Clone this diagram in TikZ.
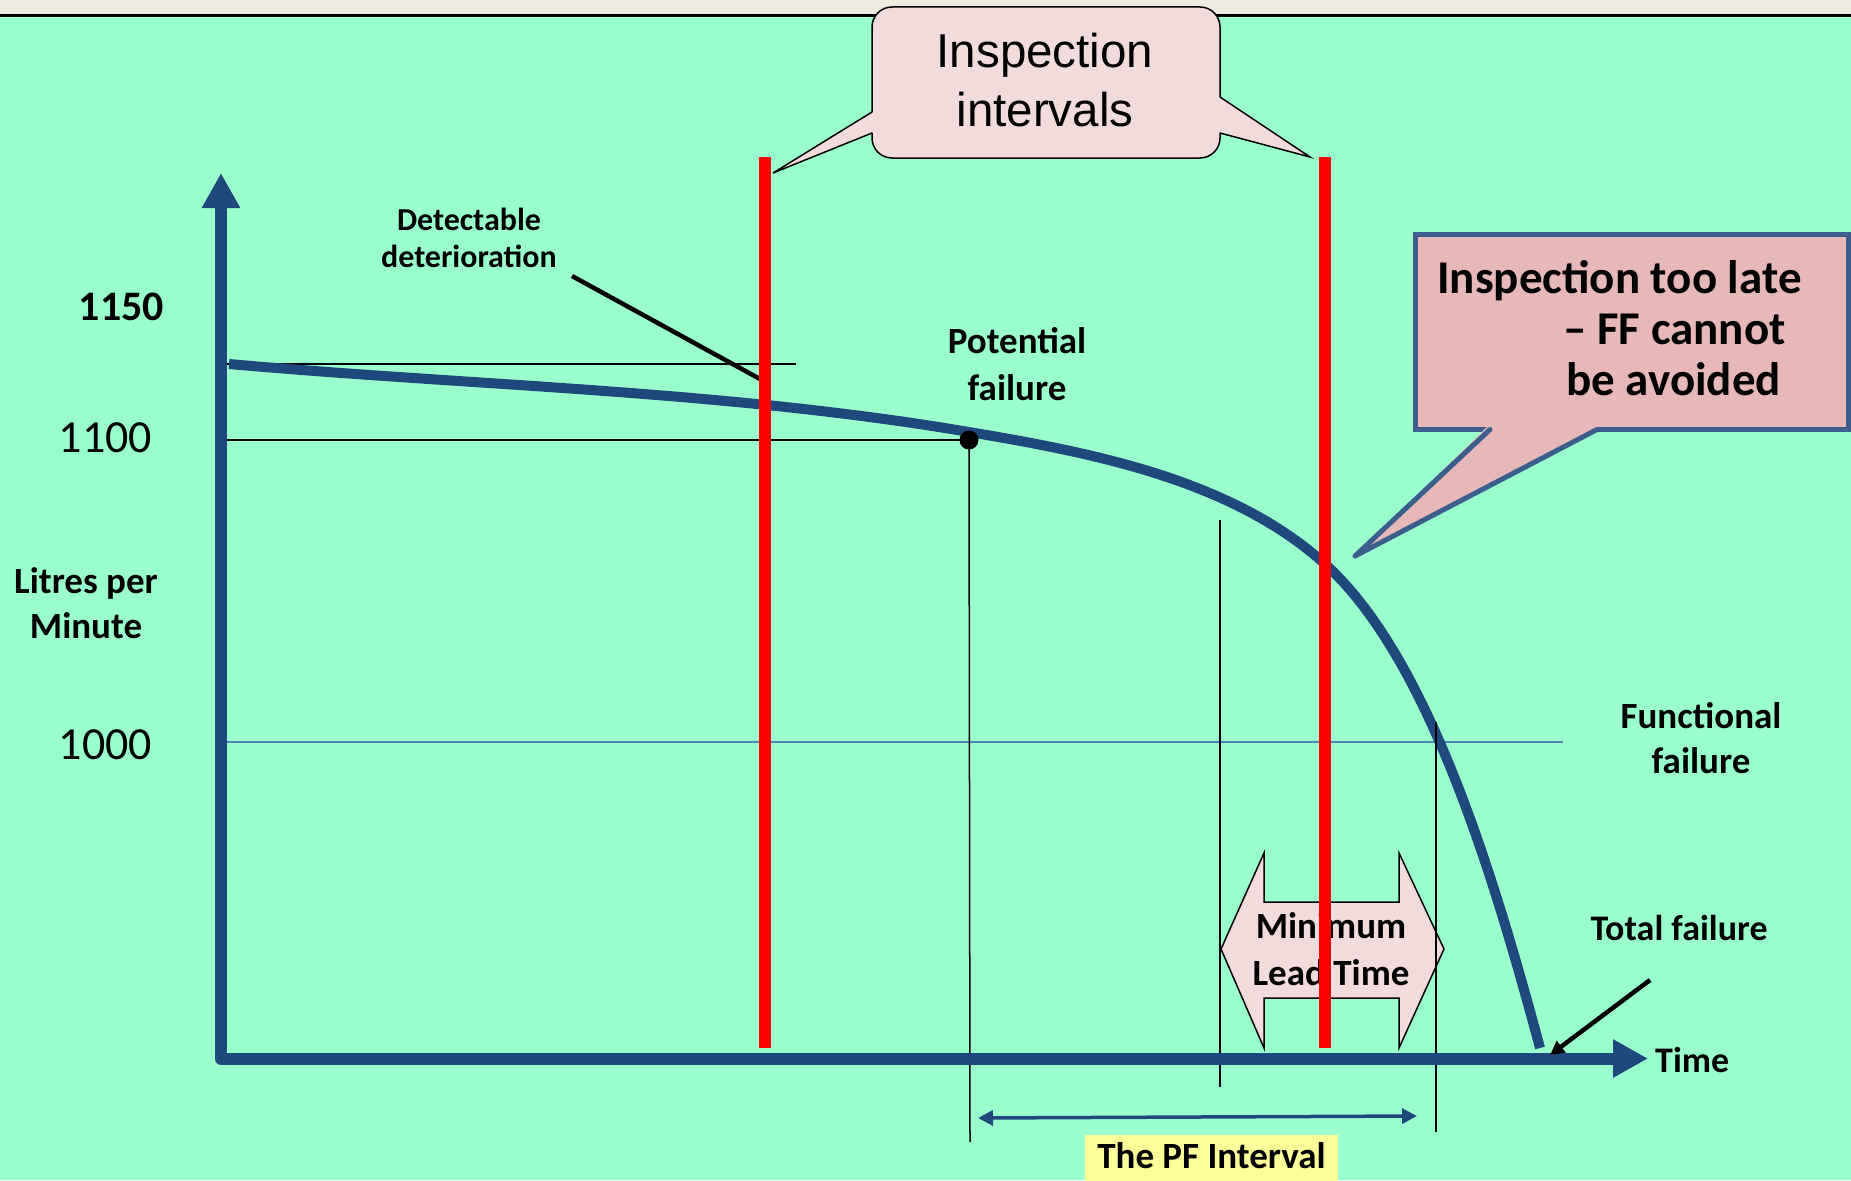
\documentclass[tikz,border=0pt]{standalone}
\usepackage{fontspec}
\setmainfont{Carlito}
\newfontfamily\arialfont{Liberation Sans}
\usetikzlibrary{arrows.meta}

\definecolor{mint}{HTML}{99FFCC}
\definecolor{bandgrey}{HTML}{EEECE1}
\definecolor{navy}{HTML}{1F497D}
\definecolor{steel}{HTML}{3B5E8C}
\definecolor{lineblue}{HTML}{4F81BD}
\definecolor{palepink}{HTML}{F2DCDB}
\definecolor{rosepink}{HTML}{E6B9B8}
\definecolor{labelyellow}{HTML}{FFFF99}

\tikzset{
  bigtip/.tip={Triangle[length=35pt, width=36pt]},
  pftip/.tip={Triangle[length=15pt, width=15pt]},
  smalltip/.tip={Triangle[length=14pt, width=14pt]}
}

\begin{document}
\begin{tikzpicture}[x=1pt, y=-1pt,
  lbl/.style={inner sep=0pt, align=center, anchor=base},
  bigbold/.style={font=\bfseries\fontsize{37}{47}\selectfont},
  guide/.style={black, line width=1.5pt},
  inspline/.style={red, line width=12pt},
  axis/.style={navy, line width=12pt, line join=round}]

\useasboundingbox (0,0) rectangle (1851,1180);

% background and top strip
\fill[mint] (0,0) rectangle (1851,1180);
\fill[bandgrey] (0,0) rectangle (1851,15);
\draw[line width=2.5pt] (0,15.5) -- (1851,15.5);

% coordinates of the construction
\coordinate (lvl1150a) at (222,364);
\coordinate (lvl1150b) at (796,364);
\coordinate (lvl1100a) at (222,440);
\coordinate (ffa) at (224,742);
\coordinate (ffb) at (1563,742);
\coordinate (pfdrop) at (970,1142);
\coordinate (ltA) at (1220,520);
\coordinate (ltAbot) at (1220,1087);
\coordinate (ffB) at (1436,722);
\coordinate (ffBbot) at (1436,1132);
\coordinate (ytop) at (221,173);
\coordinate (orig) at (221,1058.5);
\coordinate (xend) at (1648,1058.5);
\coordinate (r1top) at (765,157);
\coordinate (r1bot) at (765,1048);
\coordinate (r2top) at (1325,157);
\coordinate (r2bot) at (1325,1048);
\coordinate (leadA) at (572,276);
\coordinate (leadB) at (760,379);
\coordinate (tfA) at (1650,980);
\coordinate (tfB) at (1550,1055);
\coordinate (pfL) at (978,1118);
\coordinate (pfR) at (1417,1116);

% reference levels
\draw[guide] (lvl1150a) -- (lvl1150b);
\draw[lineblue, line width=1.5pt] (ffa) -- (ffb);

% degradation curve
\draw[navy, line width=10pt]
  (229,364) .. controls (476,386) and (725,390.5) .. (969,432)
            .. controls (1094,453) and (1232,480) .. (1325,564)
            .. controls (1429,658) and (1494,877) .. (1540,1048);

% potential failure point
\node[circle, fill=black, inner sep=0pt, minimum size=19pt] (pfpoint) at (969,440) {};
\draw[guide] (lvl1100a) -- (pfpoint.center);
\draw[guide] (pfpoint.center) -- (pfdrop);

% minimum lead time double arrow
\filldraw[fill=palepink, draw=black, line width=1.5pt, line join=miter]
  (1221,949) -- (1264,853) -- (1264,902) -- (1399,902) -- (1399,853)
  -- (1444,949) -- (1399,1048) -- (1399,998) -- (1264,998) -- (1264,1048) -- cycle;
\node[lbl, bigbold] (minlead) at (1331,985) {Minimum\\Lead Time};

\draw[guide] (ltA) -- (ltAbot);
\draw[guide] (ffB) -- (ffBbot);

% axes
\draw[axis, bigtip-bigtip] (ytop) -- (orig) -- (xend);

% leader to the detectable level
\draw[line width=4.5pt] (leadA) -- (leadB);

% inspections
\draw[inspline] (r1top) -- (r1bot);
\draw[inspline] (r2top) -- (r2bot);

% total failure pointer
\draw[line width=4.5pt, -smalltip] (tfA) -- (tfB);

% PF interval
\draw[navy, line width=3.5pt, pftip-pftip] (pfL) -- (pfR);
\fill[labelyellow] (1085,1135) rectangle (1338,1185);
\node[lbl, bigbold] (pflabel) at (1211.5,1168) {The PF Interval};

% axis labels
\node[lbl, font=\bfseries\fontsize{42}{50}\selectfont] (v1150) at (121.5,320) {1150};
\node[lbl, font=\fontsize{46}{54}\selectfont] (v1100) at (105.5,452) {1100};
\node[lbl, font=\fontsize{46}{54}\selectfont] (v1000) at (105.5,759) {1000};
\node[lbl, font=\bfseries\fontsize{37}{45}\selectfont] (ylabel) at (86,638) {Litres per\\Minute};
\node[lbl, font=\bfseries\fontsize{36}{44}\selectfont, anchor=base west] (timelbl) at (1655,1072) {Time};

% annotations
\node[lbl, font=\bfseries\fontsize{32}{37}\selectfont] (detect) at (469,267) {Detectable\\deterioration};
\node[lbl, bigbold] (potential) at (1017,400) {Potential\\failure};
\node[lbl, font=\bfseries\fontsize{37}{45}\selectfont] (functional) at (1701,773) {Functional\\failure};
\node[lbl, font=\bfseries\fontsize{36}{44}\selectfont] (total) at (1679,940) {Total failure};

% callout: inspection intervals
\node[draw=black, fill=palepink, line width=1.5pt, rounded corners=20pt,
      minimum width=348pt, minimum height=151pt, inner sep=0pt] (insp) at (1046,82.5) {};
\fill[palepink] (875,112.5) -- (871,112.5) -- (773,173) -- (871,132.5) -- (875,132.5) -- cycle;
\draw[line width=1.5pt] (872,112) -- (773,173) -- (872,133);
\fill[palepink] (1217,97.5) -- (1221,97.5) -- (1310,157) -- (1221,132.5) -- (1217,132.5) -- cycle;
\draw[line width=1.5pt] (1220,97) -- (1310,157) -- (1220,133);
\node[lbl, font=\arialfont\fontsize{47.5}{59}\selectfont] (insptext) at (1045,127) {Inspection\\intervals};

% callout: inspection too late
\node[draw=steel, fill=rosepink, line width=5pt, minimum width=433pt, minimum height=195pt,
      inner sep=0pt] (late) at (1632,332) {};
\fill[rosepink] (1488,426) -- (1355,556) -- (1599,426) -- cycle;
\draw[steel, line width=5pt, line join=round, line cap=round] (1490,429.5) -- (1355,556) -- (1597,429.5);
\node[inner sep=0pt, anchor=base west, align=left, font=\bfseries\fontsize{47}{51}\selectfont] (latetext) at (1437,395)
  {Inspection too late\\\hspace*{126pt}– FF cannot\\\hspace*{129pt}be avoided};

\end{tikzpicture}
\end{document}
